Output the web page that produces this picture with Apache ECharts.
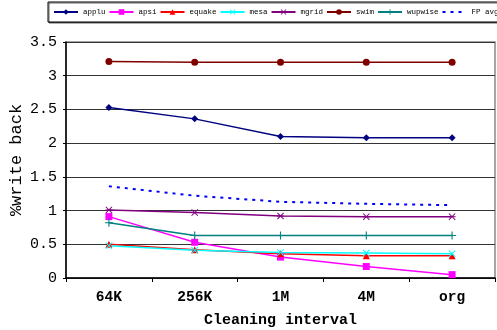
<!DOCTYPE html>
<html><head><meta charset="utf-8">
<script src="https://cdn.jsdelivr.net/npm/echarts@6/dist/echarts.min.js"></script>
<style>html,body{margin:0;padding:0;background:#fff}#c{width:497px;height:330px}</style>
</head><body><div id="c"></div>
<script>
const categories = ['64K', '256K', '1M', '4M', 'org'];
const applu   = [2.53, 2.36, 2.10, 2.08, 2.08];
const apsi    = [0.91, 0.53, 0.31, 0.17, 0.05];
const equake  = [0.50, 0.42, 0.36, 0.33, 0.33];
const mesa    = [0.48, 0.41, 0.38, 0.37, 0.36];
const mgrid   = [1.01, 0.97, 0.92, 0.91, 0.91];
const swim    = [3.21, 3.20, 3.20, 3.20, 3.20];
const wupwise = [0.82, 0.63, 0.63, 0.63, 0.63];
const fpavg   = [1.36, 1.22, 1.13, 1.10, 1.08];

const X_PATH = 'path://M0,1L1,0L5,4L9,0L10,1L6,5L10,9L9,10L5,6L1,10L0,9L4,5Z';
const PLUS_PATH = 'path://M4.3,0H5.7V4.3H10V5.7H5.7V10H4.3V5.7H0V4.3H4.3Z';
const STAR_PATH = 'path://M0,1L1,0L5,4L9,0L10,1L6,5L10,9L9,10L5,6L1,10L0,9L4,5ZM0,4.3H10V5.7H0Z';

const mono = '"Liberation Mono", "Courier New", monospace';

function s(name, data, color, symbol, size, extra) {
  return Object.assign({
    name, type: 'line', data, symbol, symbolSize: size,
    color, itemStyle: { color },
    lineStyle: { color, width: 1.5 },
    showSymbol: true, animation: false
  }, extra || {});
}

const chart = echarts.init(document.getElementById('c'));
chart.setOption({
  backgroundColor: '#fff',
  animation: false,
  legend: {
    left: 48, top: 2, width: 480,
    padding: [6, 5, 6, 5],
    itemWidth: 24, itemHeight: 7, itemGap: 3,
    borderColor: '#000', borderWidth: 1,
    backgroundColor: '#fff',
    shadowColor: 'rgba(0,0,0,0.6)', shadowOffsetX: 1, shadowOffsetY: 1, shadowBlur: 0,
    textStyle: { fontFamily: mono, fontSize: 7.5, color: '#000' },
    data: ['applu', 'apsi', 'equake', 'mesa', 'mgrid', 'swim', 'wupwise',
      { name: 'FP avg', itemStyle: { opacity: 0 } }]
  },
  grid: {
    left: 66, right: 2, top: 42, bottom: 52,
    outerBoundsMode: 'none',
    show: true, borderColor: '#888', borderWidth: 1.5
  },
  xAxis: {
    type: 'category', data: categories, boundaryGap: true,
    name: 'Cleaning interval', nameLocation: 'middle', nameGap: 35, nameMoveOverlap: false,
    nameTextStyle: { fontFamily: mono, fontSize: 15, fontWeight: 'bold', color: '#000' },
    axisLine: { lineStyle: { color: '#000', width: 1.5 } },
    axisTick: { show: true, length: 4, lineStyle: { color: '#000' } },
    axisLabel: { fontFamily: mono, fontSize: 14.5, fontWeight: 'bold', color: '#000', margin: 12 }
  },
  yAxis: {
    type: 'value', min: 0, max: 3.5, interval: 0.5,
    name: '%write back', nameLocation: 'middle', nameGap: 41, nameRotate: 90, nameMoveOverlap: false,
    nameTextStyle: { fontFamily: mono, fontSize: 17, color: '#000' },
    axisLine: { show: true, lineStyle: { color: '#000', width: 1.5 } },
    axisTick: { show: true, length: 3, lineStyle: { color: '#000' } },
    axisLabel: { fontFamily: mono, fontSize: 15, color: '#000', margin: 9 },
    splitLine: { show: true, lineStyle: { color: '#333', width: 1 } }
  },
  series: [
    s('applu', applu, '#000080', 'diamond', 7),
    s('apsi', apsi, '#FF00FF', 'rect', 7),
    s('equake', equake, '#FF0000', 'triangle', 7),
    s('mesa', mesa, '#00FFFF', X_PATH, 7),
    s('mgrid', mgrid, '#800080', STAR_PATH, 7),
    s('swim', swim, '#800000', 'circle', 7),
    s('wupwise', wupwise, '#008080', PLUS_PATH, 8),
    s('FP avg', fpavg, '#0000FF', 'none', 0, { lineStyle: { color: '#0000FF', width: 2, type: [3, 5] } })
  ]
});
</script></body></html>
